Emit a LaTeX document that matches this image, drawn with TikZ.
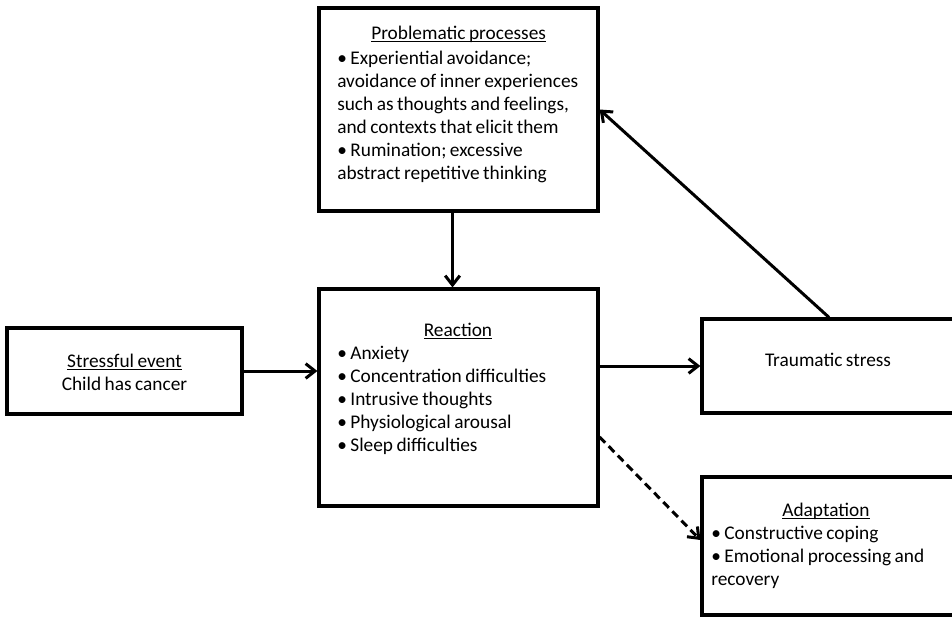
\documentclass[tikz,border=0pt]{standalone}
\usepackage{fontspec}
\setmainfont{Carlito}[WordSpace=0.8]
\usetikzlibrary{arrows.meta}

\newcommand\ttl[1]{\underline{\raisebox{0pt}[\height][0pt]{#1}}}
\newcommand\tightsp{\spaceskip=0pt\relax}

\tikzset{
  box/.style={draw, line width=2.4pt, inner sep=0pt},
  txt/.style={inner sep=0pt, font=\fontsize{14.5}{17.25}\selectfont,
    execute at begin node=\tightsp},
  conn/.style={line width=2.25pt, -{Straight Barb[length=7pt,width=11pt]}},
}

\begin{document}
\begin{tikzpicture}[x={(0.75pt,0)},y={(0,-0.75pt)}]
\useasboundingbox (0,0) rectangle (952,617);
\clip (0,0) rectangle (952,617);
% boxes
\node [box, minimum width=209.25pt, minimum height=152.25pt] (probl) at (458.5,109.5) {};
\node [box, minimum width=209.25pt, minimum height=162.75pt] (react) at (458.5,397.5) {};
\node [box, minimum width=176.25pt, minimum height=64.5pt] (stress) at (124.5,371) {};
\node [box, minimum width=190.5pt, minimum height=70.5pt] (trauma) at (829,366) {};
\node [box, minimum width=190.5pt, minimum height=103.5pt] (adapt) at (829,546) {};
% texts
\node [txt, anchor=north west, text width=195pt, align=left] (probltxt) at (337,26)
  {\makebox[182pt]{\ttl{Problematic processes}}\\[1pt]
   • Experiential avoidance;\\ avoidance of inner experiences\\ such as thoughts and feelings,\\
   and contexts that elicit them\\ • Rumination; excessive\\ abstract repetitive thinking};
\node [txt, anchor=north west, text width=195pt, align=left] (reacttxt) at (337,323)
  {\makebox[181pt]{\ttl{Reaction}}\\
   • Anxiety\\ • Concentration difficulties\\ • Intrusive thoughts\\
   • Physiological arousal\\ • Sleep difficulties};
\node [txt, align=center] (stresstxt) at (124.5,372) {\ttl{Stressful event}\\ Child has cancer};
\node [txt] (traumatxt) at (828,360) {Traumatic stress};
\node [txt, anchor=north west, text width=180pt, align=left] (adapttxt) at (711,503)
  {\makebox[172pt]{\ttl{Adaptation}}\\
   • Constructive coping\\ • Emotional processing and\\ recovery};
% connectors
\draw [conn] ([xshift=-4.5pt]probl.south) -- ([xshift=-4.5pt]react.north);
\draw [conn] (stress.east) -- (stress.east -| react.west);
\draw [conn] (trauma.west -| react.east) -- (trauma.west);
\draw [conn] (trauma.north) -- (probl.east);
\draw [conn, dash pattern=on 6pt off 3.75pt] ([yshift=-29.6pt]react.east) -- ([yshift=4.5pt]adapt.west);
\end{tikzpicture}
\end{document}
